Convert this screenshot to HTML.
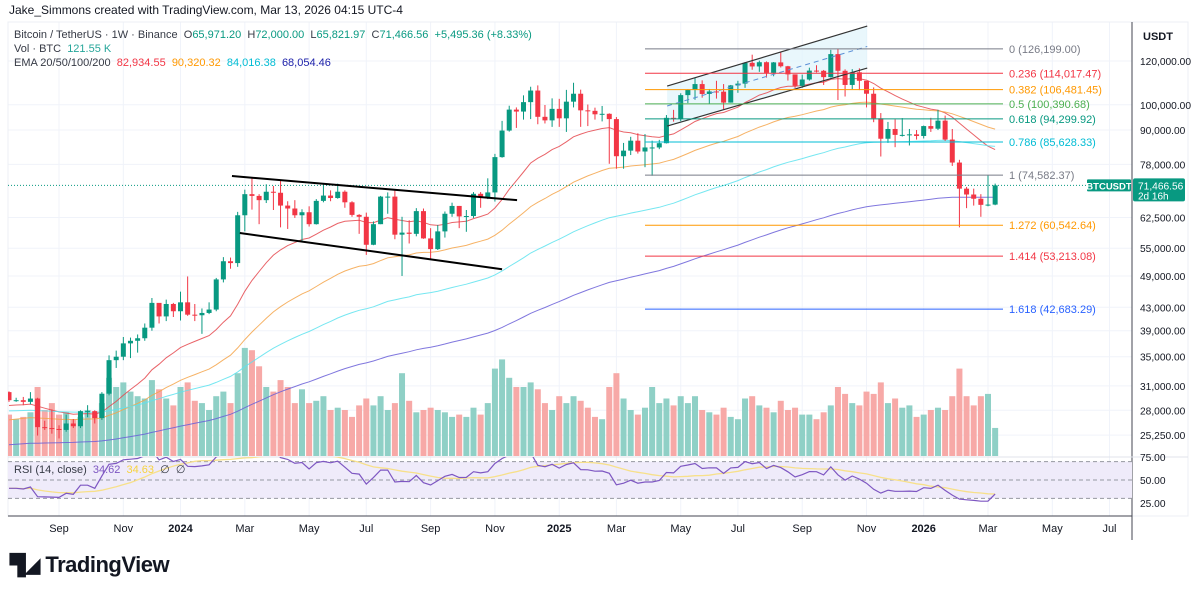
<!DOCTYPE html>
<html><head><meta charset="utf-8"><style>
html,body{margin:0;padding:0;background:#fff;width:1200px;height:589px;overflow:hidden;font-family:"Liberation Sans",sans-serif;}
#root{position:relative;width:1200px;height:589px;}
svg{position:absolute;left:0;top:0;}
.t{position:absolute;white-space:nowrap;font-size:11px;color:#131722;}
</style></head><body><div id="root">
<svg id="svg" width="1200" height="589"></svg>
<div class="t" style="left:9px;top:3px;font-size:12px">Jake_Simmons created with TradingView.com, Mar 13, 2026 04:15 UTC-4</div>
<div class="t" style="left:14px;top:29px;color:#363a45">Bitcoin / TetherUS · 1W · Binance &nbsp;O<span style="color:#089981">65,971.20</span> &nbsp;H<span style="color:#089981">72,000.00</span> &nbsp;L<span style="color:#089981">65,821.97</span> &nbsp;C<span style="color:#089981">71,466.56 &nbsp;+5,495.36 (+8.33%)</span></div>
<div class="t" style="left:14px;top:43px;color:#363a45">Vol · BTC &nbsp;<span style="color:#26a69a">121.55 K</span></div>
<div class="t" style="left:14px;top:57px;color:#363a45">EMA 20/50/100/200 &nbsp;<span style="color:#f23645">82,934.55</span> &nbsp;<span style="color:#ff9800">90,320.32</span> &nbsp;<span style="color:#00bcd4">84,016.38</span> &nbsp;<span style="color:#1e22aa">68,054.46</span></div>
<div class="t" style="left:14px;top:463px;color:#363a45">RSI (14, close) &nbsp;<span style="color:#7e57c2">34.62</span> &nbsp;<span style="color:#f7d33f">34.63</span> &nbsp;∅ &nbsp;∅</div>
<div class="t" style="left:1143px;top:31px;font-size:11px;font-weight:bold">USDT</div>
<div class="t" style="left:10px;top:552px;font-size:22px;font-weight:bold;color:#131722;letter-spacing:-0.5px"><span style="font-size:20px">▜◢</span> TradingView</div>
</div>
<script>
const NS='http://www.w3.org/2000/svg';
const svg=document.getElementById('svg');
// ---- data (thousands USDT) ----
const closes=[29.2,29.2,29.0,29.4,26.1,26.0,25.9,25.8,26.5,26.2,27.9,27.9,27.1,30.0,34.5,35.0,37.0,37.4,37.8,39.5,43.8,41.4,43.6,42.3,
43.9,41.7,41.6,42.0,42.6,48.3,52.1,51.7,63.1,68.9,68.4,67.2,69.6,69.3,65.7,64.9,63.1,63.9,60.8,67.0,68.5,67.8,69.6,66.6,63.2,62.7,55.8,60.8,68.2,68.2,58.2,58.7,58.4,64.2,57.3,54.8,59.0,63.5,65.6,62.8,62.9,69.0,68.0,69.4,80.4,89.8,98.0,97.2,101.1,106.1,95.1,93.7,98.3,
94.5,101.3,104.7,97.7,97.5,96.1,96.3,94.2,80.7,82.6,86.1,82.3,83.7,83.7,85.2,94.7,94.3,104.1,106.4,109.0,104.6,105.7,105.6,100.9,108.4,109.2,119.1,117.3,119.4,114.2,119.3,117.4,113.5,108.2,111.1,115.3,115.2,112.2,123.5,115.2,108.6,114.5,110.5,104.7,94.5,86.8,90.4,88.2,88.2,88.4,87.8,91.5,
90.5,93.6,86.5,78.6,70.5,68.8,67.6,65.9,65.97,71.47];
const highs=[30.3,29.5,29.6,30.2,29.5,26.8,28.1,26.3,27.5,27.0,28.0,28.6,28.0,30.2,35.2,35.9,38.0,37.9,38.4,40.2,44.7,43.4,44.4,43.8,
45.9,48.9,43.6,42.8,43.9,48.6,53.0,52.9,64.0,70.2,73.8,68.9,71.8,71.3,72.8,66.9,67.2,64.7,65.5,67.5,71.9,70.0,72.0,70.0,66.9,63.4,63.8,61.5,68.4,69.4,70.1,62.7,61.8,65.0,64.9,59.8,60.6,64.1,66.5,65.6,64.5,69.5,69.5,73.6,81.5,93.5,99.6,98.9,104.0,107.8,108.4,99.9,102.7,
102.5,106.4,109.6,106.5,100.1,98.8,99.5,96.5,95.0,85.3,87.5,88.8,88.5,86.1,86.4,95.8,97.9,104.9,106.7,112.0,110.7,106.8,110.5,109.0,108.6,110.5,119.5,123.2,120.2,119.8,119.5,124.5,117.6,113.2,113.4,116.7,117.9,115.6,125.7,126.2,115.9,116.0,116.4,110.3,107.5,96.6,93.1,94.1,94.6,90.4,90.0,91.7,
94.7,97.9,95.6,90.4,79.5,71.0,70.5,68.9,74.5,72.0];
const lows=[29.0,29.0,28.6,28.7,25.2,25.8,25.4,24.9,25.6,26.0,26.0,27.2,26.5,26.9,29.8,33.4,34.5,34.8,35.6,37.4,39.0,40.2,40.6,41.3,
40.7,41.5,40.6,38.5,41.8,42.3,47.7,50.5,50.9,59.0,64.6,60.8,66.4,64.5,60.0,59.6,62.4,56.6,60.2,60.7,66.6,66.9,67.6,65.1,62.7,58.4,53.5,55.7,60.8,63.5,57.1,49.0,56.1,57.8,57.2,52.5,54.6,57.5,62.7,59.8,58.9,62.4,65.1,67.5,66.8,80.2,89.4,90.8,94.0,94.2,92.2,92.5,91.2,
91.2,89.3,98.9,91.2,91.5,94.0,93.3,78.2,76.6,76.6,81.1,81.6,77.1,74.4,83.1,85.1,93.2,93.4,100.7,102.1,103.0,100.4,102.6,98.2,100.9,105.1,107.3,115.7,114.7,112.0,112.6,116.8,110.6,107.3,107.3,110.6,114.4,108.6,112.0,102.0,103.5,106.7,106.3,98.9,93.0,80.6,85.3,83.8,87.6,84.4,86.5,86.9,
89.3,90.0,86.0,77.5,60.0,65.0,65.7,62.7,65.5,65.8];
const volumes=[180,160,170,190,300,200,230,180,190,160,170,200,190,230,340,300,320,280,260,250,330,290,250,220,
300,320,240,230,200,260,280,230,360,470,460,390,300,280,330,300,230,290,230,240,260,200,210,200,170,220,250,220,260,200,230,360,240,190,200,210,200,190,170,180,170,210,180,230,380,420,340,300,300,320,290,230,200,
260,230,260,240,210,170,160,300,360,250,200,180,210,300,230,250,220,260,230,260,200,190,180,210,170,160,250,260,220,210,190,240,200,210,180,180,160,190,220,300,270,230,220,280,270,320,230,250,210,220,170,180,
200,210,200,260,380,260,220,260,270,122];
const firstOpen=30.2;
const priceTicks=[120000,100000,90000,78000,62500,55000,49000,43000,39000,35000,31000,28000,25250];
const rsiTicks=[75,50,25];
const monthLabels=['Sep','Nov','2024','Mar','May','Jul','Sep','Nov','2025','Mar','May','Jul','Sep','Nov','2026','Mar','May','Jul'];
const monthBarIdx=[7,16,24,33,42,50,59,68,77,85,94,102,111,120,128,137,146,154];
const fibRatios=['0','0.236','0.382','0.5','0.618','0.786','1','1.272','1.414','1.618'];
const fibPrices=[126199.00,114017.47,106481.45,100390.68,94299.92,85628.33,74582.37,60542.64,53213.08,42683.29];
const fibColors=['#787b86','#f23645','#ff9800','#4caf50','#089981','#00bcd4','#787b86','#ff9800','#f23645','#2962ff'];
const emaPeriods=[20,50,100,200];
const emaSeeds=[28.5,26.8,27.9,24.2];
const emaColors=['#e5484d','#f5a54a','#5ee3ef','#6a5fd8'];
// drawings in bar-index / price(k) space
const triUpper=[[31.2,74.3],[71.1,67.2]];
const triLower=[[32.3,58.6],[69.0,50.4]];
const chUpper=[[92.1,108.1],[120.1,138.8]];
const chLower=[[92.1,91.5],[120.1,116.5]];
const chMid=[[92.1,99.5],[120.1,127.5]];
const lastPrice=71466.56;
// ---- scales ----
const X0=9, STEP=7.146;
function xOf(i){return X0+i*STEP;}
function yOf(p){return 61+240*Math.log(120000/p);}
function yK(k){return yOf(k*1000);}
const VOLBASE=456, VOLK=0.23;
function yVol(v){return VOLBASE-v*VOLK;}
function yRsi(v){return 480-(v-50)*0.92;}
function el(tag,attrs,parent){const e=document.createElementNS(NS,tag);for(const k in attrs)e.setAttribute(k,attrs[k]);(parent||svg).appendChild(e);return e;}
const fmt=v=>v.toLocaleString('en-US',{minimumFractionDigits:2,maximumFractionDigits:2});
const defs=el('defs',{});
const cp=el('clipPath',{id:'mainClip'},defs);el('rect',{x:8,y:22,width:1124,height:434},cp);
const cp2=el('clipPath',{id:'rsiClip'},defs);el('rect',{x:8,y:457,width:1124,height:59},cp2);
// grid
const grid=el('g',{stroke:'#f0f3fa','stroke-width':1});


monthBarIdx.forEach(i=>{const l=el('line',{x1:xOf(i),x2:xOf(i),y1:22,y2:516},grid);

});
priceTicks.forEach(p=>{const l=el('line',{x1:8,x2:1132,y1:yOf(p),y2:yOf(p)},grid);

});
el('rect',{x:8,y:22,width:1180,height:494,fill:'none',stroke:'#eceff4'});
const axL=el('line',{x1:1132,x2:1132,y1:22,y2:540,stroke:'#434651','stroke-width':1});


const axB=el('line',{x1:8,x2:1132,y1:516,y2:516,stroke:'#434651','stroke-width':1});


el('line',{x1:8,x2:1188,y1:457,y2:457,stroke:'#e0e3eb'});
const main=el('g',{'clip-path':'url(#mainClip)'});


const opens=closes.map((c,i)=>i===0?firstOpen:closes[i-1]);
volumes.forEach((v,i)=>{const up=closes[i]>=opens[i];
const r=el('rect',{x:xOf(i)-3,y:yVol(v),width:6,height:v*VOLK,fill:up?'#8fd0c6':'#f7a9a7'},main);

});
const chPts=[chUpper[0],chUpper[1],chLower[1],chLower[0]].map(p=>xOf(p[0])+','+yK(p[1])).join(' ');
const chf=el('polygon',{points:chPts,fill:'#dff3fb','fill-opacity':0.7},main);


fibPrices.forEach((p,i)=>{const y=yOf(p);
const l=el('line',{x1:645,x2:1003,y1:y,y2:y,stroke:fibColors[i],'stroke-width':1},svg);


const t=el('text',{x:1009,y:y+4,fill:fibColors[i],'font-size':11,'font-family':'Liberation Sans, sans-serif'},svg);
t.textContent=fibRatios[i]+' ('+fmt(p)+')';

});
emaPeriods.forEach((n,k)=>{const a=2/(n+1);let e=emaSeeds[k];const pts=[];
closes.forEach((c,i)=>{e=a*c+(1-a)*e;pts.push(xOf(i).toFixed(1)+','+yK(e).toFixed(1));});
const pl=el('polyline',{points:pts.join(' '),fill:'none',stroke:emaColors[k],'stroke-width':1,'stroke-opacity':0.85},main);

});
const lp=el('line',{x1:8,x2:1132,y1:yOf(lastPrice),y2:yOf(lastPrice),stroke:'#089981','stroke-width':1,'stroke-dasharray':'1,2'},main);


closes.forEach((c,i)=>{const o=opens[i],up=c>=o,col=up?'#089981':'#f23645',x=xOf(i);
const w=el('line',{x1:x,x2:x,y1:yK(highs[i]),y2:yK(lows[i]),stroke:col,'stroke-width':1},main);


const yt=yK(Math.max(o,c)),yb=yK(Math.min(o,c));
const b=el('rect',{x:x-2.5,y:yt,width:5,height:Math.max(1,yb-yt),fill:col},main);

});
function seg(s,name,attrs){const l=el('line',Object.assign({x1:xOf(s[0][0]),y1:yK(s[0][1]),x2:xOf(s[1][0]),y2:yK(s[1][1])},attrs),main);

}
seg(triUpper,'triangle-upper-trendline',{stroke:'#000','stroke-width':2});
seg(triLower,'triangle-lower-trendline',{stroke:'#000','stroke-width':2});
seg(chUpper,'channel-upper-line',{stroke:'#333','stroke-width':1.2});
seg(chLower,'channel-lower-line',{stroke:'#333','stroke-width':1.2});
seg(chMid,'channel-mid-line',{stroke:'#5b8fd6','stroke-width':1,'stroke-dasharray':'5,4'});
const rsiG=el('g',{'clip-path':'url(#rsiClip)'});


const band=el('rect',{x:8,y:yRsi(70),width:1124,height:yRsi(30)-yRsi(70),fill:'#efebfa'},rsiG);


[70,50,30].forEach(v=>{const l=el('line',{x1:8,x2:1132,y1:yRsi(v),y2:yRsi(v),stroke:'#9598a1','stroke-dasharray':'4,3','stroke-width':1},rsiG);

});
let ag=0.4,al=0.5;const rsi=[];
closes.forEach((c,i)=>{const d=c-opens[i];ag=(ag*13+Math.max(d,0))/14;al=(al*13+Math.max(-d,0))/14;rsi.push(100-100/(1+ag/al));});
const rsiMa=rsi.map((v,i)=>{const s=rsi.slice(Math.max(0,i-13),i+1);return s.reduce((a,b)=>a+b,0)/s.length;});
const ma=el('polyline',{points:rsiMa.map((v,i)=>xOf(i).toFixed(1)+','+yRsi(v).toFixed(1)).join(' '),fill:'none',stroke:'#f7e08a','stroke-width':1.3},rsiG);


const rl=el('polyline',{points:rsi.map((v,i)=>xOf(i).toFixed(1)+','+yRsi(v).toFixed(1)).join(' '),fill:'none',stroke:'#7e57c2','stroke-width':1.2},rsiG);


priceTicks.forEach(p=>{const t=el('text',{x:1140,y:yOf(p)+4,'font-size':10.2,fill:'#131722','font-family':'Liberation Sans, sans-serif'});
t.textContent=fmt(p);

});
rsiTicks.forEach(v=>{const t=el('text',{x:1140,y:yRsi(v)+4,'font-size':10.2,fill:'#131722','font-family':'Liberation Sans, sans-serif'});
t.textContent=v.toFixed(2);

});
monthLabels.forEach((m,k)=>{const isY=/^\d/.test(m);const t=el('text',{x:xOf(monthBarIdx[k]),y:532,'font-size':11,'text-anchor':'middle',fill:'#131722','font-weight':isY?'bold':'normal','font-family':'Liberation Sans, sans-serif'});
t.textContent=m;

});
const ly=yOf(lastPrice);
const sb=el('rect',{x:1087,y:ly-6,width:44,height:12,fill:'#089981',rx:1});


const st=el('text',{x:1109,y:ly+4,'font-size':9.5,'text-anchor':'middle',fill:'#fff','font-weight':'bold','font-family':'Liberation Sans, sans-serif'});
st.textContent='BTCUSDT';


const pb=el('rect',{x:1133,y:ly-7,width:52,height:23,fill:'#089981',rx:2});


const pt=el('text',{x:1138,y:ly+4,'font-size':10.2,fill:'#fff','font-family':'Liberation Sans, sans-serif'});
pt.textContent=fmt(lastPrice);


const ct=el('text',{x:1138,y:ly+14,'font-size':10,fill:'#fff','font-family':'Liberation Sans, sans-serif'});
ct.textContent='2d 16h';


</script></body></html>
